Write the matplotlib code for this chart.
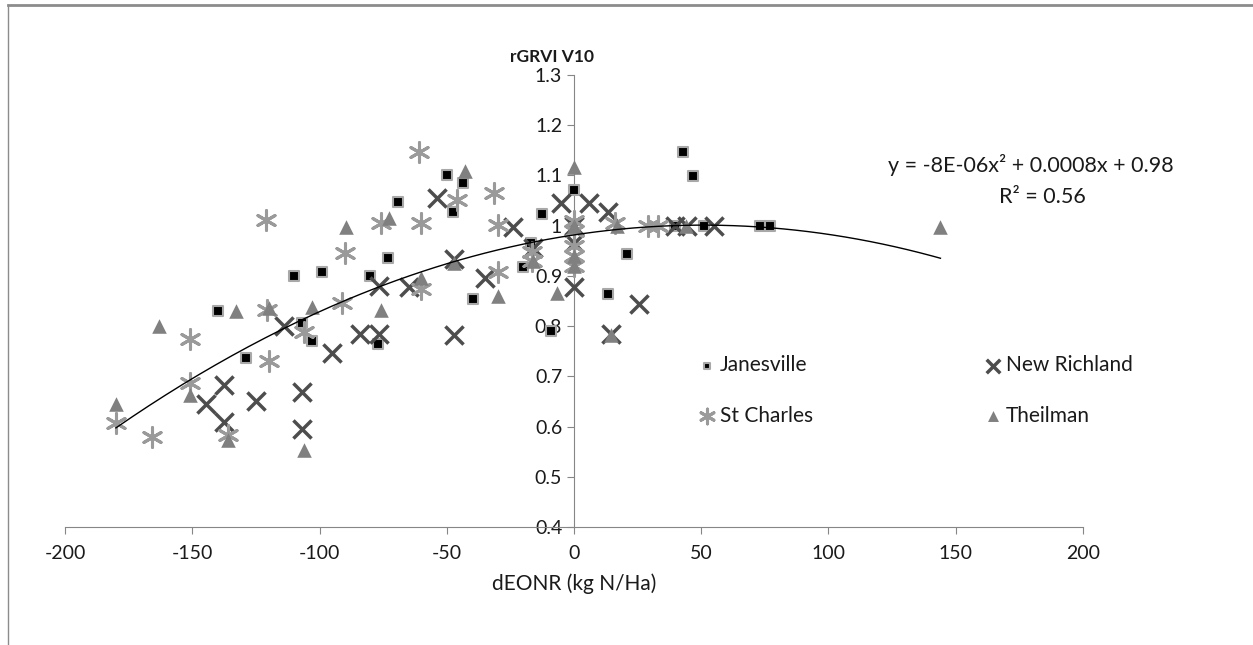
import matplotlib.pyplot as plt
import numpy as np
from matplotlib.lines import Line2D
from matplotlib.ticker import FuncFormatter

plt.rcParams['font.family'] = ['Lato', 'DejaVu Sans']
plt.rcParams['axes.unicode_minus'] = False

# dEONR (kg N/Ha) and rGRVI V10 per site
janesville_x = [-140, -129, -110, -107, -103, -99, -80, -77, -73, -69, -50, -47.5, -43.6, -39.7,
                -20, -17, -12.5, -9, 0, 13.3, 21, 39.7, 42.8, 46.7, 51, 73, 77]
janesville_y = [0.83, 0.737, 0.90, 0.807, 0.77, 0.908, 0.90, 0.765, 0.936, 1.047, 1.10, 1.027, 1.085, 0.855,
                0.918, 0.966, 1.023, 0.79, 1.071, 0.864, 0.944, 1.0, 1.147, 1.098, 1.0, 1.0, 1.0]

new_richland_x = [-144.5, -137.5, -137.5, -125, -114, -107, -107, -95, -84, -76.6, -76.6, -65, -54, -47,
                  -47, -35, -24, -16, -5, 0, 0, 0, 6, 13.5, 14.5, 25.6, 39.5, 44.5, 55]
new_richland_y = [0.645, 0.683, 0.61, 0.651, 0.80, 0.669, 0.595, 0.746, 0.785, 0.785, 0.88, 0.878, 1.055, 0.934,
                  0.783, 0.896, 0.998, 0.956, 1.045, 1.0, 0.966, 0.878, 1.046, 1.028, 0.784, 0.845, 1.0, 1.0, 1.0]

st_charles_x = [-180, -166, -151, -151, -136, -121, -120.5, -120, -106, -91, -90, -76, -61, -60, -60,
                -46, -31.4, -30, -30, -16.5, -16.5, 0, 0, 0, 0, 0, 16, 29, 33]
st_charles_y = [0.607, 0.58, 0.775, 0.687, 0.583, 1.012, 0.832, 0.73, 0.789, 0.846, 0.945, 1.006, 1.147, 1.006, 0.873,
                1.051, 1.065, 1.002, 0.908, 0.948, 0.93, 1.01, 0.99, 0.96, 0.94, 0.92, 1.005, 1.0, 1.0]

theilman_x = [-180, -163, -151, -136, -133, -120, -106, -103, -89.5, -76, -72.6, -60, -47, -43, -30,
              -16, -6.5, 0, 0, 0, 0, 14.5, 17, 44, 144]
theilman_y = [0.645, 0.80, 0.663, 0.573, 0.83, 0.836, 0.553, 0.838, 0.998, 0.832, 1.015, 0.896, 0.926, 1.108, 0.86,
              0.93, 0.866, 1.117, 1.0, 0.94, 0.92, 0.782, 1.0, 1.0, 0.998]

x_ticks = [-200, -150, -100, -50, 0, 50, 100, 150, 200]
y_ticks = [0.4, 0.5, 0.6, 0.7, 0.8, 0.9, 1.0, 1.1, 1.2, 1.3]

fig = plt.figure(figsize=(12.53, 6.45), dpi=100)
ax = fig.add_axes([0.0519, 0.1829, 0.8124, 0.7008])

asterisk = (6, 2, 0)
h_j = ax.scatter(janesville_x, janesville_y, marker='s', s=42, c='black', edgecolors='#a8a8a8', linewidths=1.5,
                 label='Janesville', zorder=3)
h_nr = ax.scatter(new_richland_x, new_richland_y, marker='x', s=170, c='#4d4d4d', linewidths=2.5,
                  label='New Richland', zorder=3)
h_sc = ax.scatter(st_charles_x, st_charles_y, marker=asterisk, s=200, c='#9a9a9a', linewidths=2.2,
                  label='St Charles', zorder=3)
h_t = ax.scatter(theilman_x, theilman_y, marker='^', s=110, c='#808080', linewidths=0,
                 label='Theilman', zorder=3)

# polynomial trend line over all sites
all_x = np.array(janesville_x + new_richland_x + st_charles_x + theilman_x)
all_y = np.array(janesville_y + new_richland_y + st_charles_y + theilman_y)
coef = np.polyfit(all_x, all_y, 2)
xs = np.linspace(all_x.min(), all_x.max(), 200)
ax.plot(xs, np.polyval(coef, xs), color='black', linewidth=1, zorder=4)

ax.set_xlim(-200, 200)
ax.set_ylim(0.4, 1.3)
ax.set_xticks(x_ticks)
ax.set_yticks(y_ticks)
ax.yaxis.set_major_formatter(FuncFormatter(lambda v, p: f'{v:g}'))

ax.spines['top'].set_visible(False)
ax.spines['right'].set_visible(False)
ax.spines['left'].set_position(('data', 0))
ax.spines['left'].set_color('#868686')
ax.spines['bottom'].set_color('#868686')
ax.tick_params(axis='both', direction='out', length=5, color='#868686', labelsize=14, labelcolor='#1a1a1a')
ax.tick_params(axis='x', pad=8)

ax.set_xlabel('dEONR (kg N/Ha)', fontsize=15, color='#1a1a1a', labelpad=8)
fig.text(0.4405, 0.9116, 'rGRVI V10', fontsize=12.5, fontweight='bold', ha='center', va='center', color='#1a1a1a')

fig.text(0.823, 0.744, 'y = -8E-06x² + 0.0008x + 0.98', fontsize=15.5, ha='center', va='center', color='#1a1a1a')
fig.text(0.832, 0.694, 'R² = 0.56', fontsize=15.5, ha='center', va='center', color='#1a1a1a')

# row order: Janesville, New Richland / St Charles, Theilman
leg = ax.legend([h_j, h_sc, h_nr, h_t], ['Janesville', 'St Charles', 'New Richland', 'Theilman'],
                ncol=2, frameon=False, loc='upper left', bbox_to_anchor=(0.542, 0.478),
                bbox_transform=fig.transFigure, fontsize=15, handletextpad=0.15, columnspacing=8.2,
                labelspacing=1.45, handlelength=0.9, scatterpoints=1, markerscale=0.75)
for t in leg.get_texts():
    t.set_color('#1a1a1a')

# outer chart frame (top and left edge)
fig.add_artist(Line2D([0.0064, 1.0], [0.992, 0.992], transform=fig.transFigure, color='#8c8c8c', linewidth=2))
fig.add_artist(Line2D([0.0064, 0.0064], [0.0, 0.992], transform=fig.transFigure, color='#8c8c8c', linewidth=1))

fig.savefig('out.png', dpi=100)
